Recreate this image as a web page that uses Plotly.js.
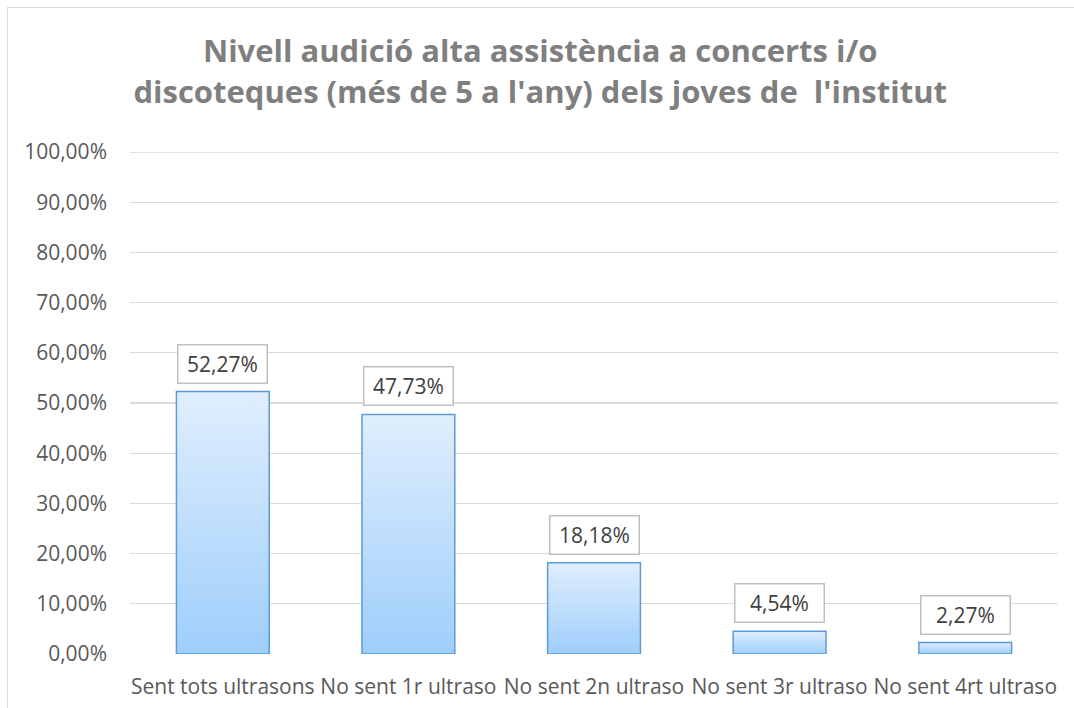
<!DOCTYPE html>
<html>
<head>
<meta charset="utf-8">
<script src="https://cdn.plot.ly/plotly-3.0.1.min.js"></script>
<style>
html,body{margin:0;padding:0;background:#fff;}
#wrap{position:relative;width:1074px;height:708px;overflow:hidden;}
#frame{position:absolute;left:7px;top:7px;width:1100px;height:800px;border:1px solid #d9d9d9;box-sizing:border-box;pointer-events:none;z-index:2;}
#chart{position:absolute;left:0;top:0;width:1074px;height:708px;}
</style>
</head>
<body>
<div id="wrap"><div id="chart"></div><div id="frame"></div></div>
<script>
const categories = ["Sent tots ultrasons", "No sent 1r ultraso", "No sent 2n ultraso", "No sent 3r ultraso", "No sent 4rt ultraso"];
const values = [52.27, 47.73, 18.18, 4.54, 2.27];
const tickVals = [0,10,20,30,40,50,60,70,80,90,100];
const tickLabels = ["0,00%","10,00%","20,00%","30,00%","40,00%","50,00%","60,00%","70,00%","80,00%","90,00%","100,00%"];
const valueLabels = ["52,27%","47,73%","18,18%","4,54%","2,27%"];

const FONT = "'Open Sans', sans-serif";
const yMax = tickVals[tickVals.length - 1];

const trace = {
  type: 'bar',
  x: categories,
  y: values,
  marker: {color: '#bcdcfb', line: {color: '#5b9bd5', width: 1.5}},
  hoverinfo: 'skip'
};

const annotations = categories.map((c, i) => ({
  x: c, y: values[i], xref: 'x', yref: 'y',
  text: valueLabels[i],
  showarrow: false,
  yanchor: 'bottom',
  yshift: 8,
  width: 84, height: 33,
  font: {family: FONT, size: 21, color: '#404040'},
  bgcolor: '#ffffff',
  bordercolor: '#bfbfbf',
  borderwidth: 1.5,
  borderpad: 2
}));

const layout = {
  width: 1074, height: 708,
  margin: {l: 130, r: 16, t: 152, b: 54},
  paper_bgcolor: '#ffffff', plot_bgcolor: '#ffffff',
  title: {
    text: "<b>Nivell audició alta assistència a concerts i/o<br>discoteques (més de 5 a l'any) dels joves de  l'institut</b>",
    font: {family: FONT, size: 31, color: '#7f7f7f'},
    x: 0.503, xanchor: 'center', y: 0.912, yanchor: 'top'
  },
  bargap: 0.5,
  showlegend: false,
  xaxis: {
    tickfont: {family: FONT, size: 21, color: '#595959'},
    showline: false, showgrid: false, ticks: '', fixedrange: true,
    ticklabelstandoff: 18
  },
  yaxis: {
    range: [0, yMax],
    tickvals: tickVals, ticktext: tickLabels,
    tickfont: {family: FONT, size: 21, color: '#595959'},
    gridcolor: '#d9d9d9', gridwidth: 1.3,
    zeroline: false, showline: false, ticks: '',
    ticklabelstandoff: 22, fixedrange: true
  },
  shapes: [{
    type: 'line', xref: 'paper', yref: 'y', x0: 0, x1: 1, y0: yMax, y1: yMax,
    line: {color: '#d9d9d9', width: 1.3}, layer: 'below'
  }],
  annotations: annotations
};

Plotly.newPlot('chart', [trace], layout, {displayModeBar: false, staticPlot: true}).then(gd => {
  const svg = gd.querySelector('svg.main-svg');
  const ns = 'http://www.w3.org/2000/svg';
  let defs = svg.querySelector('defs');
  const lg = document.createElementNS(ns, 'linearGradient');
  lg.setAttribute('id', 'barGrad');
  lg.setAttribute('x1', '0'); lg.setAttribute('y1', '0');
  lg.setAttribute('x2', '0'); lg.setAttribute('y2', '1');
  const s1 = document.createElementNS(ns, 'stop');
  s1.setAttribute('offset', '0'); s1.setAttribute('stop-color', '#e0eefd');
  const s2 = document.createElementNS(ns, 'stop');
  s2.setAttribute('offset', '1'); s2.setAttribute('stop-color', '#9ecefb');
  lg.appendChild(s1); lg.appendChild(s2);
  defs.appendChild(lg);
  gd.querySelectorAll('.barlayer .point path').forEach(p => {
    p.style.fill = 'url(#barGrad)';
    p.style.fillOpacity = 1;
  });
});
</script>
</body>
</html>
